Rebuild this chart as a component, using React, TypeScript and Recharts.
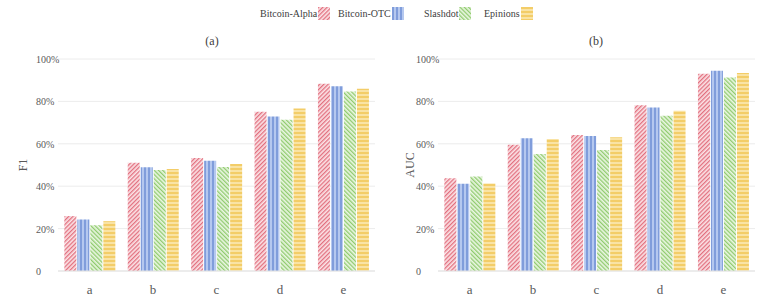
import { BarChart, Bar, XAxis, YAxis, CartesianGrid } from 'recharts'

const categories = ['a', 'b', 'c', 'd', 'e']
const seriesNames = ['Bitcoin-Alpha', 'Bitcoin-OTC', 'Slashdot', 'Epinions']

// F1 (%), panel (a)
const f1Alpha = [25.9, 51.1, 53.3, 75.1, 88.3]
const f1Otc = [24.3, 48.9, 52.0, 72.9, 87.2]
const f1Slashdot = [21.6, 47.6, 49.1, 71.3, 84.7]
const f1Epinions = [23.5, 48.1, 50.5, 76.7, 86.0]

// AUC (%), panel (b)
const aucAlpha = [43.7, 59.5, 64.2, 78.2, 93.1]
const aucOtc = [41.2, 62.6, 63.7, 77.1, 94.5]
const aucSlashdot = [44.6, 55.2, 57.1, 73.2, 91.3]
const aucEpinions = [41.3, 62.3, 63.1, 75.6, 93.4]

const yTicks = [0, 20, 40, 60, 80, 100]

const keys = ['alpha', 'otc', 'slashdot', 'epinions']
const fills = ['url(#pAlpha)', 'url(#pOtc)', 'url(#pSlash)', 'url(#pEpin)']

const f1Data = categories.map((c, i) => ({
  name: c,
  alpha: f1Alpha[i],
  otc: f1Otc[i],
  slashdot: f1Slashdot[i],
  epinions: f1Epinions[i]
}))

const aucData = categories.map((c, i) => ({
  name: c,
  alpha: aucAlpha[i],
  otc: aucOtc[i],
  slashdot: aucSlashdot[i],
  epinions: aucEpinions[i]
}))

const font = "'Liberation Serif', 'Times New Roman', Times, serif"
const textColor = '#595959'

function Patterns() {
  return (
    <svg width={0} height={0} style={{ position: 'absolute' }}>
      <defs>
        <pattern id="pAlpha" patternUnits="userSpaceOnUse" width={3} height={3} patternTransform="rotate(45)">
          <rect width={3} height={3} fill="#fbe3e6" />
          <rect width={1.3} height={3} fill="#e2707f" />
        </pattern>
        <pattern id="pOtc" patternUnits="userSpaceOnUse" width={4} height={4}>
          <rect width={4} height={4} fill="#b5c8ef" />
          <rect width={2} height={4} fill="#809ddb" />
        </pattern>
        <pattern id="pSlash" patternUnits="userSpaceOnUse" width={3} height={3} patternTransform="rotate(-45)">
          <rect width={3} height={3} fill="#eaf6e2" />
          <rect width={1.3} height={3} fill="#90cb6e" />
        </pattern>
        <pattern id="pEpin" patternUnits="userSpaceOnUse" width={4} height={4}>
          <rect width={4} height={4} fill="#f9e3a4" />
          <rect width={4} height={2} fill="#f3cd68" />
        </pattern>
      </defs>
    </svg>
  )
}

function YTick(props: any) {
  const { x, y, payload } = props
  return (
    <text x={x - 14} y={y} dy={4} textAnchor="start" fill={textColor} fontSize={10} style={{ fontFamily: font }}>
      {payload.value === 0 ? '0' : `${payload.value}%`}
    </text>
  )
}

function Panel(props: { data: any[]; label: string; width: number; axisWidth: number; right: number; labelDx: number }) {
  const { data, label, width, axisWidth, right, labelDx } = props
  return (
    <BarChart
      width={width}
      height={307}
      data={data}
      margin={{ top: 59, right, bottom: 6, left: 0 }}
      barCategoryGap="10%"
      barGap={1}
      style={{ fontFamily: font }}
    >
      <CartesianGrid vertical={false} stroke="#ececec" />
      <XAxis
        dataKey="name"
        height={30}
        tickLine={false}
        axisLine={{ stroke: '#e3e3e3' }}
        tickMargin={8}
        tick={{ fill: textColor, fontSize: 13, style: { fontFamily: font } }}
      />
      <YAxis
        width={axisWidth}
        domain={[0, 100]}
        ticks={yTicks}
        axisLine={false}
        tickLine={false}
        tick={<YTick />}
        label={{
          value: label,
          angle: -90,
          position: 'center',
          dx: labelDx,
          style: { fill: textColor, fontSize: 12, fontFamily: font }
        }}
      />
      {keys.map((k, i) => (
        <Bar key={k} dataKey={k} name={seriesNames[i]} fill={fills[i]} isAnimationActive={false} />
      ))}
    </BarChart>
  )
}

const legendLeft = [260, 338, 424, 484]

export default function App() {
  return (
    <div style={{ position: 'absolute', left: 0, top: 0, width: 768, height: 307, background: '#fff', fontFamily: font }}>
      <Patterns />
      {seriesNames.map((n, i) => (
        <div
          key={n}
          style={{
            position: 'absolute',
            left: legendLeft[i],
            top: 7,
            display: 'flex',
            alignItems: 'center',
            fontSize: 10,
            color: '#404040',
            whiteSpace: 'nowrap'
          }}
        >
          <span>{n}</span>
          <svg width={12} height={13} style={{ marginLeft: 1 }}>
            <rect width={12} height={13} fill={fills[i]} />
          </svg>
        </div>
      ))}
      <div style={{ position: 'absolute', left: 192, top: 34, width: 40, textAlign: 'center', fontSize: 12, color: '#404040' }}>(a)</div>
      <div style={{ position: 'absolute', left: 576, top: 34, width: 40, textAlign: 'center', fontSize: 12, color: '#404040' }}>(b)</div>
      <div style={{ position: 'absolute', left: 0, top: 0 }}>
        <Panel data={f1Data} label="F1" width={390} axisWidth={58} right={15} labelDx={-6} />
      </div>
      <div style={{ position: 'absolute', left: 390, top: 0 }}>
        <Panel data={aucData} label="AUC" width={378} axisWidth={48} right={13} labelDx={-4} />
      </div>
    </div>
  )
}
